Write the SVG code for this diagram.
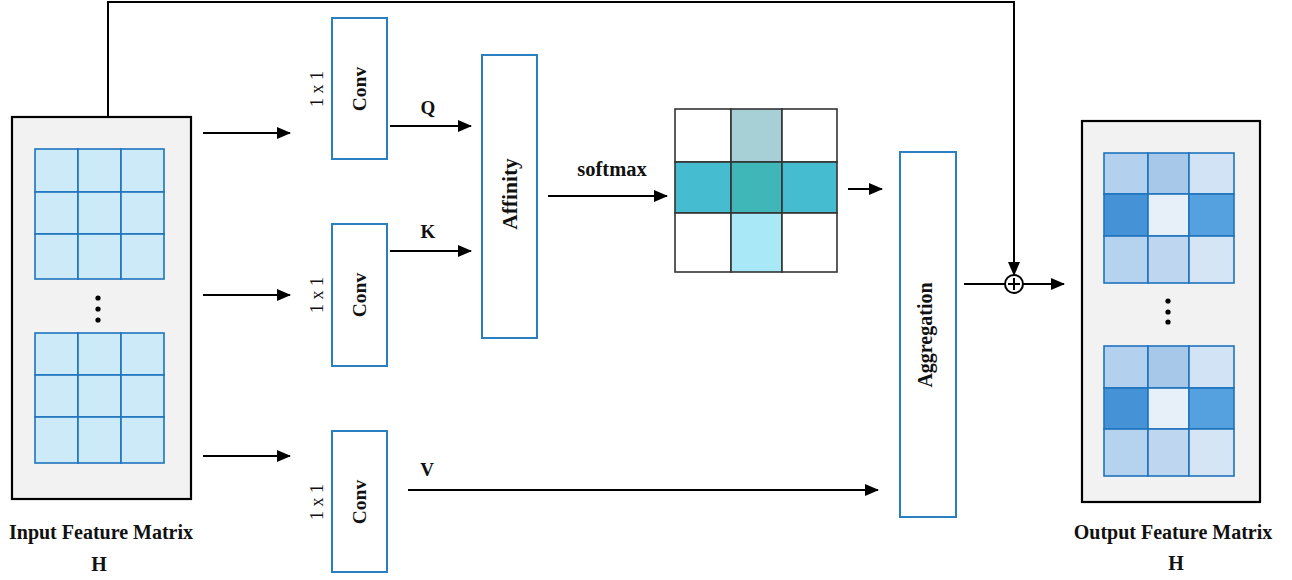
<svg xmlns="http://www.w3.org/2000/svg" width="1292" height="580" viewBox="0 0 1292 580">
<style>
.panel{fill:#f2f2f2;stroke:#000;stroke-width:2.2}
.box{fill:#fff;stroke:#2a7fc1;stroke-width:2}
.ig{fill:#cdeaf8;stroke:#1f74bd;stroke-width:1.6}
.og{stroke:#1f74bd;stroke-width:1.6}
.sg{stroke:#333;stroke-width:1.6}
.ln{fill:none;stroke:#000;stroke-width:2}
.t{font-family:"Liberation Serif","Times New Roman",serif;font-weight:bold;fill:#111;text-anchor:middle}
.r{font-family:"Liberation Serif","Times New Roman",serif;font-weight:normal;fill:#111;text-anchor:middle}
</style>
<defs>
<marker id="ah" markerUnits="userSpaceOnUse" markerWidth="14" markerHeight="12" refX="13" refY="6" orient="auto">
<path d="M0,0 L14,6 L0,12 Z" fill="#000"/>
</marker>
</defs>

<g id="input">
<rect class="panel" x="12" y="117" width="179" height="382"/>
<g class="ig">
<rect x="35" y="149" width="43" height="43"/><rect x="78" y="149" width="43" height="43"/><rect x="121" y="149" width="43" height="43"/>
<rect x="35" y="192" width="43" height="42"/><rect x="78" y="192" width="43" height="42"/><rect x="121" y="192" width="43" height="42"/>
<rect x="35" y="234" width="43" height="45"/><rect x="78" y="234" width="43" height="45"/><rect x="121" y="234" width="43" height="45"/>
<rect x="35" y="333" width="43" height="42"/><rect x="78" y="333" width="43" height="42"/><rect x="121" y="333" width="43" height="42"/>
<rect x="35" y="375" width="43" height="42"/><rect x="78" y="375" width="43" height="42"/><rect x="121" y="375" width="43" height="42"/>
<rect x="35" y="417" width="43" height="46"/><rect x="78" y="417" width="43" height="46"/><rect x="121" y="417" width="43" height="46"/>
</g>
<circle cx="98" cy="298" r="2.6"/><circle cx="98" cy="309" r="2.6"/><circle cx="98" cy="320" r="2.6"/>
<text class="t" x="101" y="539" font-size="20">Input Feature Matrix</text>
<text class="t" x="99" y="571" font-size="20">H</text>
</g>

<g id="conv_q">
<rect class="box" x="332" y="18" width="55" height="141"/>
<text class="t" font-size="19.5" transform="translate(366,89) rotate(-90)">Conv</text>
<text class="r" font-size="18" transform="translate(323,89) rotate(-90)">1 x 1</text>
</g>
<g id="conv_k">
<rect class="box" x="332" y="224" width="55" height="142"/>
<text class="t" font-size="19.5" transform="translate(366,295) rotate(-90)">Conv</text>
<text class="r" font-size="18" transform="translate(323,295) rotate(-90)">1 x 1</text>
</g>
<g id="conv_v">
<rect class="box" x="332" y="431" width="55" height="141"/>
<text class="t" font-size="19.5" transform="translate(366,502) rotate(-90)">Conv</text>
<text class="r" font-size="18" transform="translate(323,502) rotate(-90)">1 x 1</text>
</g>

<g id="affinity">
<rect class="box" x="482" y="55" width="55" height="283"/>
<text class="t" font-size="21.5" transform="translate(517,194) rotate(-90)">Affinity</text>
</g>

<g id="attention_map">
<g class="sg">
<rect x="675" y="109" width="56" height="53" fill="#fff"/>
<rect x="731" y="109" width="51" height="53" fill="#a6cfd6"/>
<rect x="782" y="109" width="55" height="53" fill="#fff"/>
<rect x="675" y="162" width="56" height="51" fill="#45bccf"/>
<rect x="731" y="162" width="51" height="51" fill="#3fb6b8"/>
<rect x="782" y="162" width="55" height="51" fill="#45bccf"/>
<rect x="675" y="213" width="56" height="59" fill="#fff"/>
<rect x="731" y="213" width="51" height="59" fill="#a9e8f6"/>
<rect x="782" y="213" width="55" height="59" fill="#fff"/>
</g>
</g>

<g id="aggregation">
<rect class="box" x="900" y="152" width="56" height="365"/>
<text class="t" font-size="20" transform="translate(932,335) rotate(-90)">Aggregation</text>
</g>

<g id="add">
<circle cx="1014" cy="284" r="9" fill="#fff" stroke="#000" stroke-width="2"/>
<path d="M1008,284 H1020 M1014,278 V290" stroke="#000" stroke-width="2"/>
</g>

<g id="output">
<rect class="panel" x="1082" y="121" width="178" height="381"/>
<g class="og">
<rect x="1104" y="153" width="44" height="41" fill="#b3d1ee"/><rect x="1148" y="153" width="41" height="41" fill="#a8c8e9"/><rect x="1189" y="153" width="45" height="41" fill="#d2e3f5"/>
<rect x="1104" y="194" width="44" height="42" fill="#4593d6"/><rect x="1148" y="194" width="41" height="42" fill="#e7eff9"/><rect x="1189" y="194" width="45" height="42" fill="#55a0de"/>
<rect x="1104" y="236" width="44" height="47" fill="#b5d2ef"/><rect x="1148" y="236" width="41" height="47" fill="#bed6f0"/><rect x="1189" y="236" width="45" height="47" fill="#d5e5f5"/>
<rect x="1104" y="346" width="44" height="42" fill="#b3d1ee"/><rect x="1148" y="346" width="41" height="42" fill="#a8c8e9"/><rect x="1189" y="346" width="45" height="42" fill="#d2e3f5"/>
<rect x="1104" y="388" width="44" height="41" fill="#4593d6"/><rect x="1148" y="388" width="41" height="41" fill="#e7eff9"/><rect x="1189" y="388" width="45" height="41" fill="#55a0de"/>
<rect x="1104" y="429" width="44" height="47" fill="#b5d2ef"/><rect x="1148" y="429" width="41" height="47" fill="#bed6f0"/><rect x="1189" y="429" width="45" height="47" fill="#d5e5f5"/>
</g>
<circle cx="1168" cy="301" r="2.6"/><circle cx="1168" cy="312" r="2.6"/><circle cx="1168" cy="322" r="2.6"/>
<text class="t" x="1173" y="539" font-size="20">Output Feature Matrix</text>
<text class="t" x="1176" y="570" font-size="20">H</text>
</g>

<g id="connectors">
<path class="ln" d="M203,133 H290" marker-end="url(#ah)"/>
<path class="ln" d="M203,295 H290" marker-end="url(#ah)"/>
<path class="ln" d="M203,456 H290" marker-end="url(#ah)"/>
<path class="ln" d="M390,126 H471" marker-end="url(#ah)"/>
<path class="ln" d="M390,251 H471" marker-end="url(#ah)"/>
<path class="ln" d="M408,490 H878" marker-end="url(#ah)"/>
<path class="ln" d="M548,196 H667" marker-end="url(#ah)"/>
<path class="ln" d="M848,189 H882" marker-end="url(#ah)"/>
<path class="ln" d="M108,117 V2 H1014 V275" marker-end="url(#ah)"/>
<path class="ln" d="M964,284 H1005"/>
<path class="ln" d="M1023,284 H1064" marker-end="url(#ah)"/>
<text class="t" x="428" y="114" font-size="19">Q</text>
<text class="t" x="428" y="238" font-size="19">K</text>
<text class="t" x="427" y="476" font-size="19">V</text>
<text class="t" x="612" y="176" font-size="20.5">softmax</text>
</g>
</svg>
